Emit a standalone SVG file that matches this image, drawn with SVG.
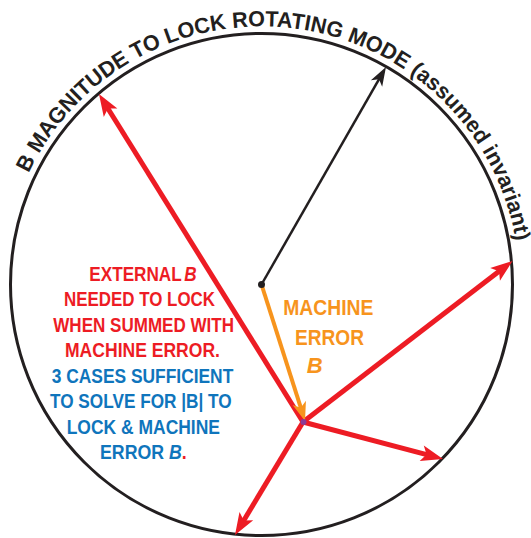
<svg xmlns="http://www.w3.org/2000/svg" width="531" height="538" viewBox="0 0 531 538">
<style>
.t{font-family:"Liberation Sans Narrow","Liberation Sans",Arial,sans-serif;font-weight:bold}
.red{fill:#ed1c24}
.blue{fill:#0f75bc}
.org{fill:#f7941d}
.it{font-style:italic}
</style>
<defs>
<path id="arcText" d="M7.4,239.7 A258,258 0 0 1 519.5,284.5"/>
<marker id="hr" markerUnits="userSpaceOnUse" markerWidth="30" markerHeight="20" refX="0" refY="0" orient="auto" overflow="visible">
<path d="M12,0 L-10,-8 L-5,0 L-10,8 Z" fill="#ed1c24"/>
</marker>
<marker id="hk" markerUnits="userSpaceOnUse" markerWidth="30" markerHeight="20" refX="0" refY="0" orient="auto" overflow="visible">
<path d="M9,0 L-10,-6.5 L-5,0 L-10,6.5 Z" fill="#231f20"/>
</marker>
<marker id="ho" markerUnits="userSpaceOnUse" markerWidth="30" markerHeight="20" refX="0" refY="0" orient="auto" overflow="visible">
<path d="M9,0 L-10,-7 L-5,0 L-10,7 Z" fill="#f7941d"/>
</marker>
</defs>
<rect width="531" height="538" fill="#ffffff"/>
<g id="circle">
<circle cx="261.5" cy="284.5" r="251" fill="none" stroke="#231f20" stroke-width="3"/>
</g>
<g id="title">
<text class="t" font-size="22" fill="#231f20"><textPath href="#arcText" startOffset="70" textLength="652" lengthAdjust="spacingAndGlyphs">B MAGNITUDE TO LOCK ROTATING MODE (assumed invariant)</textPath></text>
</g>
<g id="connectors" fill="none">
<line x1="303" y1="422" x2="105.3" y2="104.2" stroke="#ed1c24" stroke-width="5" marker-end="url(#hr)"/>
<line x1="303" y1="422" x2="503" y2="268.3" stroke="#ed1c24" stroke-width="5" marker-end="url(#hr)"/>
<line x1="303" y1="422" x2="431.4" y2="455.9" stroke="#ed1c24" stroke-width="5" marker-end="url(#hr)"/>
<line x1="303" y1="422" x2="241.2" y2="524.7" stroke="#ed1c24" stroke-width="5" marker-end="url(#hr)"/>
<line x1="261.5" y1="284.5" x2="381.5" y2="74.8" stroke="#231f20" stroke-width="2.5" marker-end="url(#hk)"/>
<line x1="261.5" y1="284.5" x2="302.3" y2="412.4" stroke="#f7941d" stroke-width="4" marker-end="url(#ho)"/>
<circle cx="261.5" cy="284.5" r="3.5" fill="#231f20"/>
<circle cx="303.5" cy="422" r="3" fill="#8b3a96"/>
</g>
<g id="note">
<text class="t red" font-size="19.5" x="89.3" y="280.7" textLength="107.4" lengthAdjust="spacingAndGlyphs">EXTERNAL<tspan class="it" dx="3">B</tspan></text>
<text class="t red" font-size="19.5" x="64" y="306.2" textLength="151" lengthAdjust="spacingAndGlyphs">NEEDED TO LOCK</text>
<text class="t red" font-size="19.5" x="53.3" y="331.7" textLength="180.7" lengthAdjust="spacingAndGlyphs">WHEN SUMMED WITH</text>
<text class="t red" font-size="19.5" x="65" y="357.2" textLength="155" lengthAdjust="spacingAndGlyphs">MACHINE ERROR.</text>
<text class="t blue" font-size="19.5" x="51.7" y="382.7" textLength="181.6" lengthAdjust="spacingAndGlyphs">3 CASES SUFFICIENT</text>
<text class="t blue" font-size="19.5" x="50" y="408.2" textLength="181.7" lengthAdjust="spacingAndGlyphs">TO SOLVE FOR |B| TO</text>
<text class="t blue" font-size="19.5" x="66.7" y="433.7" textLength="153.3" lengthAdjust="spacingAndGlyphs">LOCK &amp; MACHINE</text>
<text class="t blue" font-size="19.5" x="100" y="459.2" textLength="86.7" lengthAdjust="spacingAndGlyphs">ERROR <tspan class="it">B</tspan><tspan class="red">.</tspan></text>
</g>
<g id="machine-error">
<text class="t org" font-size="22" x="283.3" y="315" textLength="90" lengthAdjust="spacingAndGlyphs">MACHINE</text>
<text class="t org" font-size="22" x="295" y="345" textLength="69" lengthAdjust="spacingAndGlyphs">ERROR</text>
<text class="t org it" font-size="22" x="306.7" y="373.3">B</text>
</g>
</svg>
